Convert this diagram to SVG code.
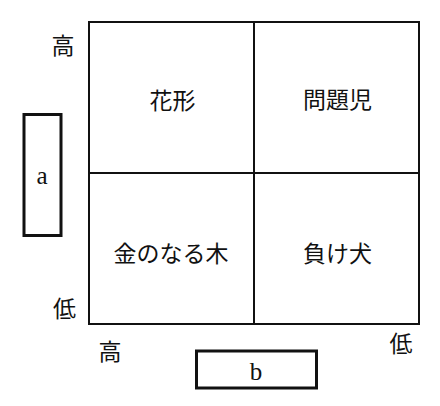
<svg xmlns="http://www.w3.org/2000/svg" width="440" height="406" viewBox="0 0 440 406">
<style>
.jp{font-family:"Noto Sans CJK JP","Noto Sans CJK SC",sans-serif;font-size:23px;fill:#111;text-anchor:middle;dominant-baseline:central}
.lat{font-family:"Liberation Serif",serif;font-size:25px;fill:#111;text-anchor:middle}
.box{fill:#fff;stroke:#111;stroke-width:3}
.grid{fill:none;stroke:#111;stroke-width:2}
</style>
<rect width="440" height="406" fill="#fff"/>
<g id="matrix">
<rect class="grid" x="89" y="22" width="330" height="302"/>
</g>
<g id="connectors">
<line class="grid" x1="254" y1="22" x2="254" y2="324"/>
<line class="grid" x1="89" y1="173" x2="419" y2="173"/>
</g>
<g id="q-hanagata"><text class="jp" x="172.5" y="99">花形</text></g>
<g id="q-mondaiji"><text class="jp" x="337.5" y="98">問題児</text></g>
<g id="q-kinnonaruki"><text class="jp" x="171" y="251.5">金のなる木</text></g>
<g id="q-makeinu"><text class="jp" x="337.5" y="251.5">負け犬</text></g>
<g id="axis-labels">
<text class="jp" x="63" y="44">高</text>
<text class="jp" x="64.5" y="306.5">低</text>
<text class="jp" x="110" y="349.5">高</text>
<text class="jp" x="401" y="342">低</text>
</g>
<g id="box-a">
<rect class="box" x="24" y="114.5" width="37" height="121"/>
<text class="lat" x="42" y="184">a</text>
</g>
<g id="box-b">
<rect class="box" x="196.5" y="351" width="120" height="37"/>
<text class="lat" x="256" y="380">b</text>
</g>
</svg>
